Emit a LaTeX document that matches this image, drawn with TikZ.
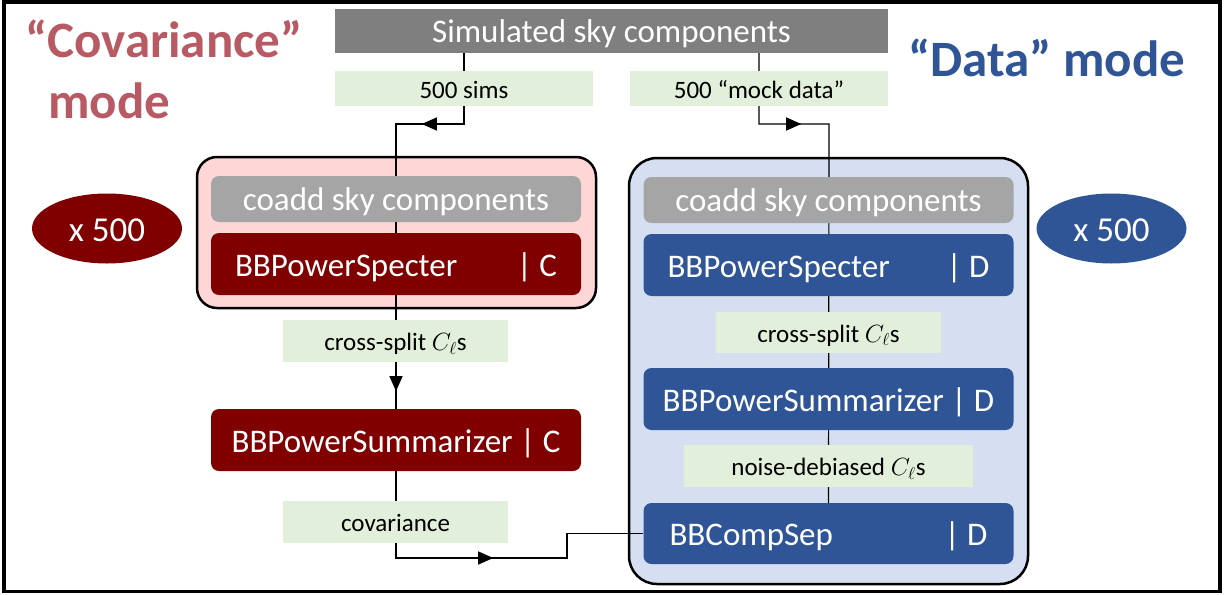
\documentclass[tikz,border=0pt]{standalone}
\usepackage{fontspec}
\setmainfont{Carlito}
\usetikzlibrary{arrows.meta,shapes.geometric,decorations.markings}
\pgfdeclarelayer{back}
\pgfdeclarelayer{mid}
\pgfsetlayers{back,mid,main}

\definecolor{skygray}{HTML}{7F7F7F}
\definecolor{coaddgray}{HTML}{A5A5A5}
\definecolor{taggreen}{HTML}{E2EFDA}
\definecolor{covred}{HTML}{800000}
\definecolor{datablue}{HTML}{2F5597}
\definecolor{covfill}{HTML}{FFD6D6}
\definecolor{datafill}{HTML}{D5DFF1}
\definecolor{covtitle}{HTML}{B85A64}

\begin{document}
\begin{tikzpicture}[x=1pt,y=-1pt,
  procbox/.style={rectangle, rounded corners=8pt, inner sep=0pt, text=white,
    font=\fontsize{33}{40}\selectfont, text height=24pt, text depth=0pt,
    minimum width=370pt, minimum height=62pt},
  redbox/.style={procbox, fill=covred},
  bluebox/.style={procbox, fill=datablue},
  coaddbox/.style={procbox, fill=coaddgray, minimum height=46pt, text height=22pt},
  tag/.style={rectangle, fill=taggreen, inner sep=0pt, text=black,
    font=\fontsize{25}{30}\selectfont, text height=19pt, text depth=0pt,
    minimum height=42pt},
  group/.style={rectangle, draw=black, line width=2.5pt, inner sep=0pt},
  repeat/.style={ellipse, inner sep=0pt, minimum width=150pt, minimum height=70pt,
    text=white, font=\fontsize{35}{42}\selectfont, text height=25pt, text depth=0pt},
  modetitle/.style={anchor=base west, inner sep=0pt, font=\fontsize{51}{60}\selectfont\bfseries},
  conn/.style={line width=1.2pt, draw=black},
  tri/.tip={Triangle[length=15pt,width=13pt]}
]
\useasboundingbox (0,0) rectangle (1225,594);

% outer frame
\draw[line width=3.5pt] (4,2) rectangle (1220,591.5);

% mode titles
\node[modetitle, text=covtitle] (covt1) at (25,58) {“Covariance”};
\node[modetitle, text=covtitle] (covt2) at (48,118) {mode};
\node[modetitle, text=datablue] (datat) at (908,77) {“Data” mode};

% simulated input
\node[procbox, rounded corners=0pt, fill=skygray, minimum width=553pt,
  minimum height=44pt] (sim) at (611.5,31) {Simulated sky components};
\node[tag, minimum width=258pt, minimum height=35pt] (sims) at (464,88.5) {500 sims};
\node[tag, minimum width=258pt, minimum height=35pt] (mock) at (759,88.5) {500 “mock data”};

% group containers
\begin{pgfonlayer}{back}
  \node[group, fill=covfill, rounded corners=20pt, minimum width=399pt,
    minimum height=151pt] (covgroup) at (396.5,232.5) {};
  \node[group, fill=datafill, rounded corners=28pt, minimum width=399pt,
    minimum height=426pt] (datagroup) at (828.5,371) {};
\end{pgfonlayer}

% covariance pipeline
\node[coaddbox] (coaddC) at (396,199) {coadd sky components};
\node[redbox] (specC) at (396,264) {\makebox[322pt]{BBPowerSpecter\hfill| C}};
\node[tag, minimum width=225pt] (crossC) at (395.5,341) {cross-split $C_\ell$s};
\node[redbox] (sumC) at (396,440) {BBPowerSummarizer | C};
\node[tag, minimum width=225pt] (covl) at (395.5,522) {covariance};

% data pipeline
\node[coaddbox] (coaddD) at (828.5,200) {coadd sky components};
\node[bluebox] (specD) at (828.5,265) {\makebox[322pt]{BBPowerSpecter\hfill| D}};
\node[tag, minimum width=225pt, minimum height=41pt] (crossD) at (828.5,332.5) {cross-split $C_\ell$s};
\node[bluebox] (sumD) at (828.5,399) {BBPowerSummarizer | D};
\node[tag, minimum width=289pt] (noiseD) at (828.5,466) {noise-debiased $C_\ell$s};
\node[bluebox, minimum height=61pt] (compD) at (828.5,533.5) {\makebox[318pt]{BBCompSep\hfill| D}};

% repetition counts
\node[repeat, fill=covred] (repC) at (107,228.5) {x 500};
\node[repeat, fill=datablue] (repD) at (1111.5,228.5) {x 500};

% connectors (behind the boxes)
\coordinate (kneeC) at (396,124);
\coordinate (kneeD) at (829,124);
\coordinate (dip) at (567,558);
\begin{pgfonlayer}{mid}
  \draw[conn, postaction={decorate}, decoration={markings,
      mark=at position 113pt with {\arrow{tri}},
      mark=at position 406pt with {\arrow{tri}}}]
    (sim.south -| sims.center) |- (kneeC) -- (sumC.north);
  \draw[conn, postaction={decorate}, decoration={markings,
      mark=at position 113pt with {\arrow{tri}}}]
    (sim.south -| mock.center) |- (kneeD) -- (compD.north);
  \draw[conn, postaction={decorate}, decoration={markings,
      mark=at position 184pt with {\arrow{tri}}}]
    (sumC.south) |- (dip) |- (compD.west);
\end{pgfonlayer}
\end{tikzpicture}
\end{document}
